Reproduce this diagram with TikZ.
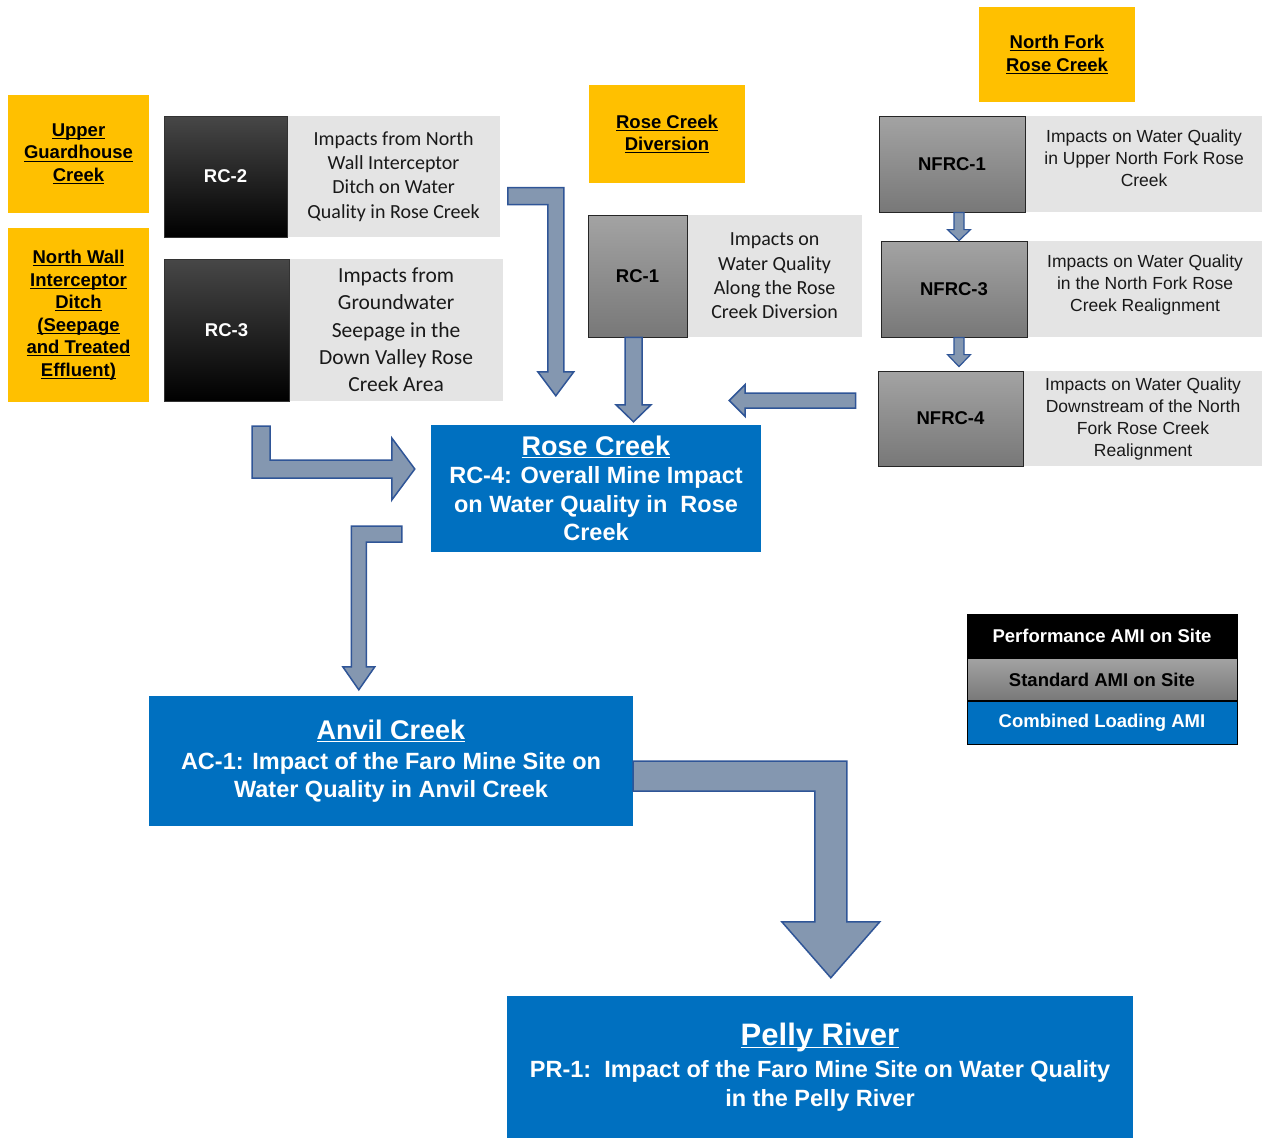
\documentclass[tikz,border=0pt]{standalone}
\usepackage{fontspec}
\setmainfont{Liberation Sans}
\newfontfamily\calibri{Carlito}
\usepackage{xcolor}
\usepackage{tikz}
\usetikzlibrary{calc,positioning}

\definecolor{creekyellow}{HTML}{FFC000}
\definecolor{amiblue}{HTML}{0070C0}
\definecolor{descgrey}{HTML}{E4E4E4}
\definecolor{arrowfill}{HTML}{8497B0}
\definecolor{arrowline}{HTML}{2F5597}

% underline at a fixed depth
\newcommand{\undl}[1]{\sbox0{#1}\rlap{\rule[-2.8pt]{\wd0}{1.2pt}}\usebox0}

\tikzset{
    creek/.style={fill=creekyellow, align=center, inner sep=0pt, font=\fontsize{18.5}{22.5}\selectfont\bfseries},
    perfbox/.style={draw=black!80, line width=0.8pt, top color=black!72, middle color=black, bottom color=black, text=white, inner sep=0pt, font=\fontsize{18.5}{22}\selectfont\bfseries},
    stdbox/.style={draw=black!85, line width=0.8pt, top color=black!36, bottom color=black!53, text=black, inner sep=0pt, font=\fontsize{18.5}{22}\selectfont\bfseries},
    descbox/.style={fill=descgrey, align=center, inner sep=0pt, text=black!90},
    loadbox/.style={fill=amiblue, text=white, align=center, inner sep=0pt, font=\fontsize{23.5}{28.5}\selectfont\bfseries},
    legrow/.style={draw=black, line width=0.8pt, minimum width=270pt, minimum height=42.7pt, inner sep=0pt, font=\fontsize{18.5}{21}\selectfont\bfseries},
    barrow/.style={fill=arrowfill, draw=arrowline, line width=1.5pt, line join=miter}
}

\begin{document}
\begin{tikzpicture}[x=1pt, y=-1pt]
    \useasboundingbox (0,0) rectangle (1262,1138);

    % creek headings
    \node[creek, minimum width=141pt, minimum height=118pt] (ugc) at (78.5,154) {\undl{Upper}\\\undl{Guardhouse}\\\undl{Creek}};
    \node[creek, minimum width=141pt, minimum height=174pt] (nwid) at (78.5,315) {\undl{North Wall}\\\undl{Interceptor}\\\undl{Ditch}\\\undl{(Seepage}\\\undl{and Treated}\\\undl{Effluent)}};
    \node[creek, minimum width=156pt, minimum height=98pt] (rcdiv) at (667,134) {\undl{Rose Creek}\\\undl{Diversion}};
    \node[creek, minimum width=156pt, minimum height=95pt] (nfrc) at (1057,54.5) {\undl{North Fork}\\\undl{Rose Creek}};

    % performance AMI (black)
    \node[perfbox, minimum width=123pt, minimum height=121pt] (rc2) at (225.5,176.5) {RC-2};
    \node[descbox, right=0pt of rc2, minimum width=212pt, minimum height=121pt, font=\calibri\fontsize{20}{24.3}\selectfont] (rc2d) {Impacts from North\\Wall Interceptor\\Ditch on Water\\Quality in Rose Creek};
    \node[perfbox, minimum width=125pt, minimum height=142pt] (rc3) at (226.5,330) {RC-3};
    \node[descbox, right=0pt of rc3, minimum width=213pt, minimum height=142pt, font=\calibri\fontsize{21.5}{27.3}\selectfont] (rc3d) {Impacts from\\Groundwater\\Seepage in the\\Down Valley Rose\\Creek Area};

    % standard AMI (grey)
    \node[stdbox, minimum width=99pt, minimum height=122pt] (rc1) at (637.5,276) {RC-1};
    \node[descbox, right=0pt of rc1, minimum width=174pt, minimum height=122pt, font=\calibri\fontsize{20}{24.3}\selectfont] (rc1d) {Impacts on\\Water Quality\\Along the Rose\\Creek Diversion};
    \node[stdbox, minimum width=146pt, minimum height=96pt] (nfrc1) at (952,164) {NFRC-1};
    \node[descbox, right=0pt of nfrc1, minimum width=237pt, minimum height=96pt, font=\fontsize{17.5}{22}\selectfont] (nfrc1d) {Impacts on Water Quality\\in Upper North Fork Rose\\Creek\\[-10pt]};
    \node[stdbox, minimum width=146pt, minimum height=96pt] (nfrc3) at (954,289) {NFRC-3};
    \node[descbox, right=0pt of nfrc3, minimum width=235pt, minimum height=96pt, font=\fontsize{17.5}{22}\selectfont] (nfrc3d) {Impacts on Water Quality\\in the North Fork Rose\\Creek Realignment\\[-10pt]};
    \node[stdbox, minimum width=145pt, minimum height=95pt] (nfrc4) at (950.5,418.5) {NFRC-4};
    \node[descbox, right=0pt of nfrc4, minimum width=239pt, minimum height=95pt, font=\fontsize{17.5}{22}\selectfont] (nfrc4d) {Impacts on Water Quality\\Downstream of the North\\Fork Rose Creek\\Realignment};

    % combined loading AMI (blue)
    \node[loadbox, minimum width=330pt, minimum height=127pt] (rose) at (596,488.5) {{\fontsize{27}{31}\selectfont\undl{Rose Creek}}\\RC-4: Overall Mine Impact\\on Water Quality in\ \ Rose\\Creek};
    \node[loadbox, minimum width=484pt, minimum height=130pt] (anvil) at (391,761) {{\fontsize{27}{31}\selectfont\undl{Anvil Creek}}\\[1.5pt]AC-1: Impact of the Faro Mine Site on\\Water Quality in Anvil Creek};
    \node[loadbox, minimum width=626pt, minimum height=142pt] (pelly) at (820,1067) {{\fontsize{31}{35}\selectfont\undl{Pelly River}}\\[4pt]PR-1:\ \ Impact of the Faro Mine Site on Water Quality\\in the Pelly River};

    % legend
    \node[legrow, fill=black, text=white] (perf) at (1102,636) {Performance AMI on Site};
    \node[legrow, top color=black!36, bottom color=black!53, text=black, below=0pt of perf] (std) {Standard AMI on Site};
    \node[legrow, fill=amiblue, text=white, below=0pt of std] (comb) {Combined Loading AMI};

    % block arrows
    \draw[barrow] let \p1=($(rc2d.east)+(8,19.5)$), \p2=($(rose.north west)+(125,-29)$) in
        (\x1,\y1+8.5) -- (\x2+8,\y1+8.5) -- (\x2+8,\y2+24) -- (\x2+18,\y2+24) -- (\x2,\y2)
        -- (\x2-18,\y2+24) -- (\x2-8,\y2+24) -- (\x2-8,\y1-8.5) -- (\x1,\y1-8.5) -- cycle;
    \draw[barrow] let \p1=($(rc1.south)+(-4,0)$), \p2=($(rose.north)+(0,-3)$) in
        (\x1-8.5,\y1) -- (\x1+8.5,\y1) -- (\x1+8.5,\y2+17) -- (\x1+17.5,\y2+17) -- (\x1,\y2)
        -- (\x1-17.5,\y2+17) -- (\x1-8.5,\y2+17) -- cycle;
    \draw[barrow] let \p1=($(nfrc4.west)+(-22,-18)$), \p2=($(rose.north east)+(-32,-25)$) in
        (\x1,\y1+7.5) -- (\x2+16,\y1+7.5) -- (\x2+16,\y1+16) -- (\x2,\y1)
        -- (\x2+16,\y1-16) -- (\x2+16,\y1-7.5) -- (\x1,\y1-7.5) -- cycle;
    \draw[barrow] let \p1=($(nwid.south east)+(112,24)$), \p2=($(rose.west)+(-16,-19.5)$) in
        (\x1-9,\y1) -- (\x1+9,\y1) -- (\x1+9,\y2+9) -- (\x2-23,\y2+9) -- (\x2-23,\y2+31) -- (\x2,\y2)
        -- (\x2-23,\y2-31) -- (\x2-23,\y2-9) -- (\x1-9,\y2-9) -- cycle;
    \draw[barrow] let \p1=($(rose.south west)+(-29,-18)$), \p2=($(anvil.north west)+(210,-6)$) in
        (\x1,\y1+8) -- (\x2-7.5,\y1+8) -- (\x2-7.5,\y2+23) -- (\x2-16,\y2+23) -- (\x2,\y2)
        -- (\x2+16,\y2+23) -- (\x2+7.5,\y2+23) -- (\x2+7.5,\y1-8) -- (\x1,\y1-8) -- cycle;
    \draw[barrow] let \p1=($(anvil.east)+(0,15)$), \p2=($(pelly.north west)+(324,-18)$) in
        (\x1,\y1+15) -- (\x2+16,\y1+15) -- (\x2+16,\y2+56) -- (\x2+49,\y2+56) -- (\x2,\y2)
        -- (\x2-49,\y2+56) -- (\x2-16,\y2+56) -- (\x2-16,\y1-15) -- (\x1,\y1-15) -- cycle;
    \draw[barrow, line width=1.2pt] let \p1=($(nfrc1.south)+(7,0)$), \p2=(nfrc3.north) in
        (\x1-5,\y1) -- (\x1+5,\y1) -- (\x1+5,\y2+11) -- (\x1+11.5,\y2+11) -- (\x1,\y2)
        -- (\x1-11.5,\y2+11) -- (\x1-5,\y2+11) -- cycle;
    \draw[barrow, line width=1.2pt] let \p1=($(nfrc3.south)+(5,0)$), \p2=($(nfrc4.north)+(0,-4)$) in
        (\x1-5,\y1) -- (\x1+5,\y1) -- (\x1+5,\y2+12) -- (\x1+11.5,\y2+12) -- (\x1,\y2)
        -- (\x1-11.5,\y2+12) -- (\x1-5,\y2+12) -- cycle;
\end{tikzpicture}
\end{document}
